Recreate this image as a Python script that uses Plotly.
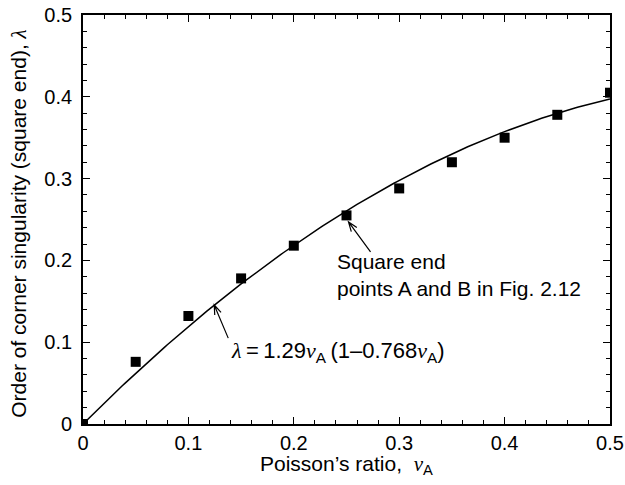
import numpy as np
import plotly.graph_objects as go

# Data
nu = [0.0, 0.05, 0.10, 0.15, 0.20, 0.25, 0.30, 0.35, 0.40, 0.45, 0.50]
lam = [0.0, 0.076, 0.132, 0.178, 0.218, 0.255, 0.288, 0.320, 0.350, 0.378, 0.405]

# Fit shown on the chart: lambda = 1.29 nu (1 - 0.768 nu)
fit_a = 1.29
fit_b = 0.768

x_ticks = [0, 0.1, 0.2, 0.3, 0.4, 0.5]
x_tick_labels = ["0", "0.1", "0.2", "0.3", "0.4", "0.5"]
y_ticks = [0, 0.1, 0.2, 0.3, 0.4, 0.5]
y_tick_labels = ["0", "0.1", "0.2", "0.3", "0.4", "0.5"]

X_RANGE = [0, 0.5]
Y_RANGE = [0, 0.5]

W, H = 625, 485
M = dict(l=83, r=15, t=15, b=61)

nu_fit = np.linspace(0, 0.5, 201)
lam_fit = fit_a * nu_fit * (1 - fit_b * nu_fit)

FONT = "Liberation Sans, Arial, Helvetica, sans-serif"
SERIF = "Liberation Serif, Times New Roman, serif"


def greek(ch):
    return f"<span style='font-family:{SERIF}'><i>{ch}</i></span>"


NU = greek("\u03bd")
LAM = greek("\u03bb")

# pixel scale of the plot area (for drawing open V arrowheads)
SX = (W - M["l"] - M["r"]) / (X_RANGE[1] - X_RANGE[0])
SY = (H - M["t"] - M["b"]) / (Y_RANGE[1] - Y_RANGE[0])


def arrow_path(tail, head, length=10.0, angle_deg=20.0):
    (x0, y0), (x1, y1) = tail, head
    dx = (x1 - x0) * SX
    dy = -(y1 - y0) * SY
    n = np.hypot(dx, dy)
    ux, uy = dx / n, dy / n
    pts = []
    for s in (1, -1):
        a = np.radians(s * angle_deg)
        rx = ux * np.cos(a) - uy * np.sin(a)
        ry = ux * np.sin(a) + uy * np.cos(a)
        pts.append((x1 - length * rx / SX, y1 + length * ry / SY))
    (wx1, wy1), (wx2, wy2) = pts
    return (f"M{x0},{y0} L{x1},{y1} M{wx1},{wy1} L{x1},{y1} L{wx2},{wy2}")


# annotation arrow geometry (tail, head) in data units
ARROW_SQUARE = ((0.2728, 0.2103), (0.2519, 0.2470))
ARROW_FIT = ((0.1378, 0.1050), (0.1245, 0.1455))

fig = go.Figure()
fig.add_trace(go.Scatter(x=nu_fit, y=lam_fit, mode="lines",
                         line=dict(color="black", width=1.5),
                         showlegend=False, hoverinfo="skip"))
fig.add_trace(go.Scatter(x=nu, y=lam, mode="markers",
                         marker=dict(symbol="square", size=10, color="black",
                                     line=dict(width=0)),
                         showlegend=False))

axis_common = dict(
    showline=True, linecolor="black", linewidth=1.8, mirror="ticks",
    ticks="inside", ticklen=7, tickwidth=1.3, tickcolor="black",
    showgrid=False, zeroline=False, automargin=False,
    tickfont=dict(family=FONT, size=20, color="black"),
    minor=dict(dtick=0.02, ticks="inside", ticklen=4, tickwidth=1.1,
               tickcolor="black", showgrid=False),
)

fig.update_xaxes(range=X_RANGE, tickvals=x_ticks, ticktext=x_tick_labels,
                 ticklabelstandoff=0, **axis_common)
fig.update_yaxes(range=Y_RANGE, tickvals=y_ticks, ticktext=y_tick_labels,
                 ticklabelstandoff=5, **axis_common)

# Axis titles as paper annotations
fig.add_annotation(x=0.5, y=-0.1, xref="paper", yref="paper",
                   xanchor="center", yanchor="middle", showarrow=False,
                   text=f"Poisson\u2019s ratio,  {NU}<sub>A</sub>",
                   font=dict(family=FONT, size=21, color="black"))
fig.add_annotation(x=-0.123, y=0.49, xref="paper", yref="paper",
                   xanchor="center", yanchor="middle", showarrow=False,
                   textangle=-90,
                   text=f"Order of corner singularity (square end), {LAM}",
                   font=dict(family=FONT, size=21, color="black"))

# Arrows drawn as thin open-V paths
for tail, head in (ARROW_SQUARE, ARROW_FIT):
    fig.add_shape(type="path", xref="x", yref="y",
                  path=arrow_path(tail, head),
                  line=dict(color="black", width=1.2))

# Text annotations
fig.add_annotation(x=0.2390, y=0.2155, xref="x", yref="y",
                   xanchor="left", yanchor="top", align="left",
                   text="Square end<br>points A and B in Fig. 2.12",
                   showarrow=False,
                   font=dict(family=FONT, size=21, color="black"))
fig.add_annotation(x=0.1385, y=0.0880, xref="x", yref="y",
                   xanchor="left", yanchor="middle", align="left",
                   text=f"{LAM}\u2009=\u20091.29{NU}<sub>A</sub>\u2009(1\u20130.768{NU}<sub>A</sub>)",
                   showarrow=False,
                   font=dict(family=FONT, size=22, color="black"))

fig.update_layout(
    width=W, height=H,
    margin=M,
    paper_bgcolor="white", plot_bgcolor="white",
    font=dict(family=FONT, color="black"),
)

fig.write_html("out.html")
